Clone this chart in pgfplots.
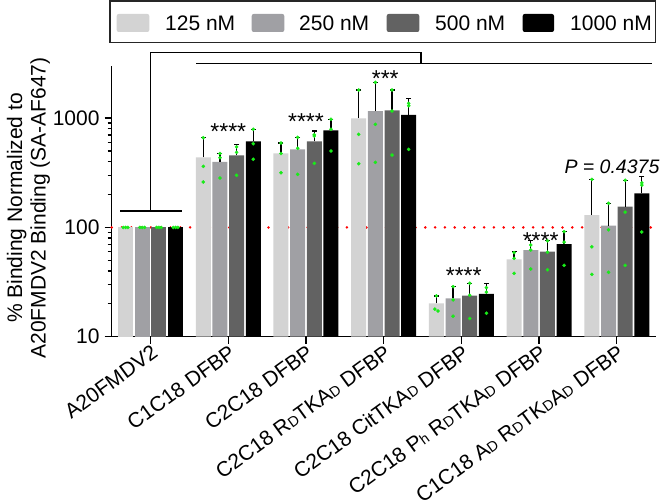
\documentclass[border=0pt]{standalone}
\usepackage{pgfplots}
\pgfplotsset{compat=1.18}
\usepackage{fontspec}
\setmainfont{Liberation Sans}
\newcommand\fs{\fontsize{21bp}{23.5bp}\selectfont}
\newcommand\sm[1]{{\fontsize{14.5bp}{15bp}\selectfont #1}}
\definecolor{cA}{RGB}{211,211,211}
\definecolor{cB}{RGB}{160,160,164}
\definecolor{cC}{RGB}{98,98,98}
\definecolor{cD}{RGB}{0,0,0}
\definecolor{dotg}{RGB}{25,235,25}
\begin{document}
\begin{tikzpicture}
\begin{axis}[
  at={(0,0)}, anchor=south west,
  scale only axis, width=544bp, height=270.7bp,
  xmin=-0.5, xmax=6.5, ymode=log, ymin=10, ymax=3000, log origin y=infty,
  axis x line*=bottom, axis y line*=left,
  axis line style={line width=1.4bp, black},
  tick style={line width=1.3bp, black},
  tick align=outside, major tick length=7bp, minor tick length=4bp,
  xtick={0,...,6}, minor xtick={},
  xticklabels={A20FMDV2, C1C18 DFBP, C2C18 DFBP, C2C18 R\sm{D}TKA\sm{D} DFBP, C2C18 CitTKA\sm{D} DFBP, C2C18 P\sm{h} R\sm{D}TKA\sm{D} DFBP, C1C18 A\sm{D} R\sm{D}TK\sm{D}A\sm{D} DFBP},
  xticklabel style={rotate=36, anchor=north east, inner sep=0pt, font=\fs},
  ytick={10,100,1000}, yticklabels={10,100,1000},
  yticklabel style={font=\fs, inner sep=0pt, xshift=-5bp},
  clip=false,
]
% reference line at 100
\addplot[red, line width=2.8bp, line cap=round, dash pattern=on 0bp off 9.8bp] coordinates {(-0.5,100) (6.5,100)};
% group 0 bars
\addplot[ybar, bar width=15bp, bar shift=-25bp, fill=cA, draw=none] coordinates {(0,100)};
\addplot[ybar, bar width=15bp, bar shift=-8.33bp, fill=cB, draw=none] coordinates {(0,100)};
\addplot[ybar, bar width=15bp, bar shift=8.33bp, fill=cC, draw=none] coordinates {(0,100)};
\addplot[ybar, bar width=15bp, bar shift=25bp, fill=cD, draw=none] coordinates {(0,100)};
% 125 nM
\addplot[ybar, bar width=15bp, bar shift=-25bp, fill=cA, draw=none] table {
x y
1 438
2 476
3 996
4 20.2
5 51.1
6 129.8
};
% 250 nM
\addplot[ybar, bar width=15bp, bar shift=-8.33bp, fill=cB, draw=none] table {
x y
1 397
2 518
3 1161
4 22.4
5 62.1
6 103.7
};
% 500 nM
\addplot[ybar, bar width=15bp, bar shift=8.33bp, fill=cC, draw=none] table {
x y
1 457
2 614
3 1178
4 23.7
5 60
6 154.6
};
% 1000 nM
\addplot[ybar, bar width=15bp, bar shift=25bp, fill=cD, draw=none] table {
x y
1 614
2 773
3 1074
4 24.7
5 70.5
6 205
};
% error bars (mean + SD), at the bar centres
\addplot[draw=none, mark=none, error bars/.cd, y dir=plus, y explicit, error mark=none,
  error bar style={draw=black, line width=1.3bp}] table[x=x, y=y, y error=e] {
x y e
0.6783 438 224
1.6783 476 116
2.6783 996 811
3.6783 20.2 3.4
4.6783 51.1 8.9
5.6783 129.8 145.2
0.8928 397 75
1.8928 518 149
2.8928 1161 966
3.8928 22.4 6.3
4.8928 62.1 13.4
5.8928 103.7 62.3
1.1072 457 114
2.1072 614 148
3.1072 1178 629
4.1072 23.7 7.1
5.1072 60 15.5
6.1072 154.6 115.4
1.3217 614 176
2.3217 773 202
3.3217 1074 431
4.3217 24.7 5.9
5.3217 70.5 20.9
6.3217 205 86
};
% error bar caps
\addplot[only marks, mark=-, mark size=2.5bp, mark options={line width=1.3bp, black}] table {
x y
0.6783 662
1.6783 592
2.6783 1807
3.6783 23.6
4.6783 60
5.6783 275
0.8928 472
1.8928 667
2.8928 2127
3.8928 28.7
4.8928 75.5
5.8928 166
1.1072 571
2.1072 762
3.1072 1807
4.1072 30.8
5.1072 75.5
6.1072 270
1.3217 790
2.3217 975
3.3217 1505
4.3217 30.6
5.3217 91.4
6.3217 291
};
% individual replicates
\addplot[only marks, mark=*, mark size=1.6bp, dotg, mark options={draw=none, fill=dotg}] table {
x y
-0.3517 100
-0.3217 100
-0.2917 100
-0.1372 100
-0.1072 100
-0.0772 100
0.0772 100
0.1072 100
0.1372 100
0.2917 100
0.3217 100
0.3517 100
0.6783 662
0.6783 362
0.6783 260
0.8928 474
0.8928 434
0.8928 283
1.1072 545
1.1072 487
1.1072 300
1.3217 790
1.3217 583
1.3217 420
1.6783 592
1.6783 474
1.6783 316
1.8928 667
1.8928 530
1.8928 306
2.1072 705
2.1072 686
2.1072 386
2.3217 975
2.3217 790
2.3217 500
2.6783 1807
2.6783 711
2.6783 383
2.8928 2127
2.8928 877
2.8928 394
3.1072 1807
3.1072 1161
3.1072 459
3.3217 1366
3.3217 1298
3.3217 518
3.6783 23.6
3.6583 17.9
3.6983 17.2
3.8928 28.7
3.8928 21.7
3.8928 15.4
4.1072 30.8
4.1072 23.9
4.1072 14.7
4.3217 28.1
4.3217 25.6
4.3217 16.4
4.6783 58.7
4.6783 52.2
4.6783 38
4.8928 69
4.8928 62.1
4.8928 41.6
5.1072 75.5
5.1072 59.2
5.1072 41
5.3217 91.4
5.3217 73.5
5.3217 45
5.6783 275
5.6783 66.5
5.6783 37.2
5.8928 166
5.8928 95.3
5.8928 38.8
6.1072 270
6.1072 138
6.1072 45
6.3217 256
6.3217 244
6.3217 90.8
};
% significance brackets
\draw[line width=1.3bp] (axis cs:-0.39,141) -- (axis cs:0.41,141);
\draw[line width=1.3bp] (axis cs:0,141) -- (axis cs:0,4000) -- (axis cs:3.48,4000) -- (axis cs:3.48,3170);
\draw[line width=1.3bp] (axis cs:0.59,3170) -- (axis cs:6.45,3170);
% stars
\node[anchor=base, inner sep=0pt, font=\fontsize{23bp}{23bp}\selectfont] at (axis cs:1,633) {****};
\node[anchor=base, inner sep=0pt, font=\fontsize{23bp}{23bp}\selectfont] at (axis cs:2,791) {****};
\node[anchor=base, inner sep=0pt, font=\fontsize{23bp}{23bp}\selectfont] at (axis cs:3.02,1945) {***};
\node[anchor=base, inner sep=0pt, font=\fontsize{23bp}{23bp}\selectfont] at (axis cs:4.03,30.5) {****};
\node[anchor=base, inner sep=0pt, font=\fontsize{23bp}{23bp}\selectfont] at (axis cs:5.02,64.5) {****};
\node[anchor=base east, inner sep=0pt, font=\fontsize{19.5bp}{21bp}\selectfont\itshape] at (axis cs:6.55,312.6) {P = 0.4375};
\end{axis}
% y label
\node[rotate=90, align=center, inner sep=0pt, font=\fs] at (-83.3bp,128.7bp) {\% Binding Normalized to\\A20FMDV2 Binding (SA-AF647)};
% legend
\draw[line width=1.2bp, black!85] (-1.7bp,294bp) rectangle (544bp,335.7bp);
\fill[cA, rounded corners=2bp] (5bp,304.7bp) rectangle (37.6bp,322.7bp);
\fill[cB, rounded corners=2bp] (140bp,304.7bp) rectangle (172.6bp,322.7bp);
\fill[cC, rounded corners=2bp] (275bp,304.7bp) rectangle (307.6bp,322.7bp);
\fill[cD, rounded corners=2bp] (411bp,304.7bp) rectangle (442.3bp,322.7bp);
\node[anchor=base west, inner sep=0pt, font=\fs] at (53.3bp,305.7bp) {125 nM};
\node[anchor=base west, inner sep=0pt, font=\fs] at (187.3bp,305.7bp) {250 nM};
\node[anchor=base west, inner sep=0pt, font=\fs] at (323.3bp,305.7bp) {500 nM};
\node[anchor=base west, inner sep=0pt, font=\fs] at (458.3bp,305.7bp) {1000 nM};
\pgfresetboundingbox
\path[use as bounding box] (-111.7bp,-165.3bp) rectangle (548.3bp,336.7bp);
\end{tikzpicture}
\end{document}
